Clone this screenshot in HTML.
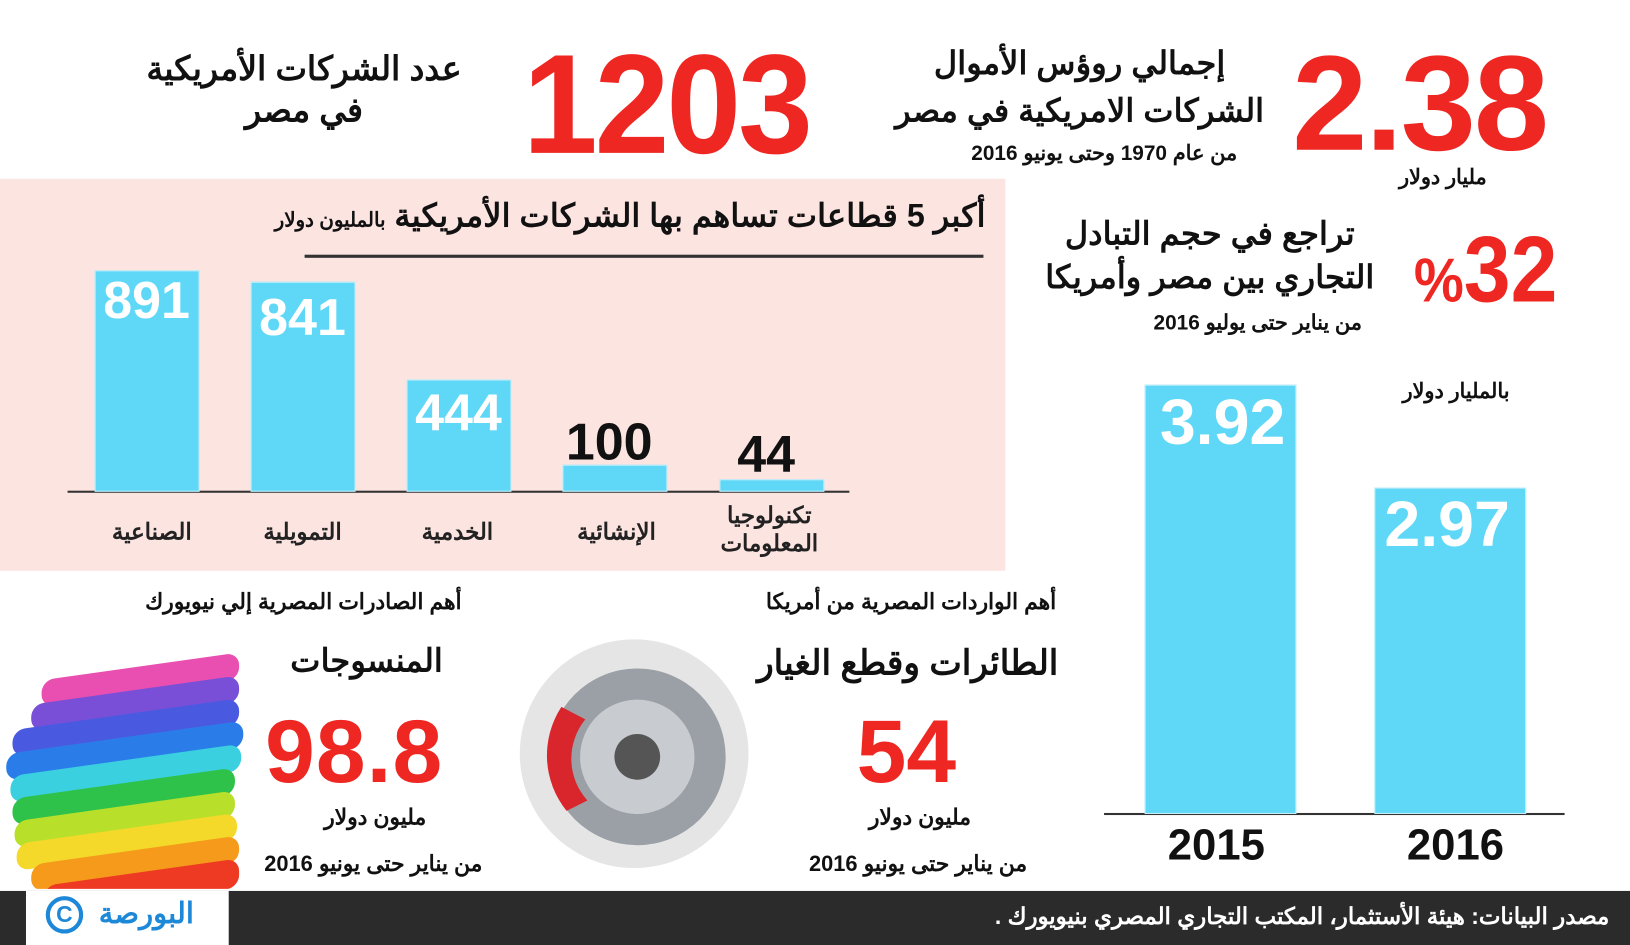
<!DOCTYPE html>
<html><head><meta charset="utf-8"><style>
html,body{margin:0;padding:0;background:#fff;overflow:hidden}
#w{position:relative;width:1568px;height:909px;transform:scale(1.0396);transform-origin:0 0;font-family:"Liberation Sans","Noto Sans CJK SC",sans-serif;}
.a{position:absolute;white-space:nowrap}
.ar{direction:rtl;font-weight:bold;color:#111}
.red{color:#ee2722;font-family:"Liberation Sans Narrow","Liberation Sans",sans-serif;font-weight:bold;line-height:1;transform-origin:0 0}
.bar{position:absolute;background:#5fd8f8;border:1px solid #c8eef8}
.bn{position:absolute;font-family:"Liberation Sans Narrow","Liberation Sans",sans-serif;font-weight:bold;line-height:1;text-align:center}
.lab{position:absolute;text-align:center;direction:rtl;font-weight:bold;font-size:20px;color:#222}
</style></head><body><div id="w">
<div class="a" style="left:0;top:172px;width:967px;height:377px;background:#fce4e1"></div>

<div class="a ar" style="right:1124px;top:46px;font-size:32px;text-align:center;line-height:40px">عدد الشركات الأمريكية<br>في مصر</div>
<div class="a red" style="left:503px;top:32px;font-size:136px;letter-spacing:-3px;transform:scaleX(0.95)">1203</div>
<div class="a ar" style="right:352px;top:38px;font-size:31px;line-height:46px;text-align:center">إجمالي روؤس الأموال<br>الشركات الامريكية في مصر</div>
<div class="a ar" style="right:378px;top:135px;font-size:20px">من عام 1970 وحتى يونيو 2016</div>
<div class="a red" style="left:1243px;top:34px;font-size:130px;letter-spacing:-2px">2.38</div>
<div class="a ar" style="right:138px;top:158px;font-size:20px">مليار دولار</div>

<div class="a ar" style="right:246px;top:204px;font-size:31px;line-height:42px;text-align:center">تراجع في حجم التبادل<br>التجاري بين مصر وأمريكا</div>
<div class="a ar" style="right:258px;top:298px;font-size:20px">من يناير حتى يوليو 2016</div>
<div class="a red" style="left:1360px;top:215px;font-size:90px;transform:scaleX(0.9)"><span style="font-size:60px">%</span>32</div>
<div class="a ar" style="right:116px;top:364px;font-size:20px">بالمليار دولار</div>

<div class="a ar" style="right:620px;top:190px;font-size:31px">أكبر 5 قطاعات تساهم بها الشركات الأمريكية <span style="font-size:19px">بالمليون دولار</span></div>
<div class="a" style="left:293px;top:245px;width:653px;height:3px;background:#333"></div>

<div class="a" style="left:65px;top:472px;width:752px;height:2px;background:#333"></div>
<div class="bar" style="left:91px;top:260px;width:99px;height:211px"></div>
<div class="bar" style="left:241px;top:271px;width:99px;height:200px"></div>
<div class="bar" style="left:391px;top:365px;width:99px;height:106px"></div>
<div class="bar" style="left:541px;top:447px;width:99px;height:24px"></div>
<div class="bar" style="left:692px;top:461px;width:99px;height:10px"></div>
<div class="bn" style="left:91px;top:264px;width:100px;font-size:50px;color:#fff">891</div>
<div class="bn" style="left:241px;top:280px;width:100px;font-size:50px;color:#fff">841</div>
<div class="bn" style="left:391px;top:372px;width:100px;font-size:50px;color:#fff">444</div>
<div class="bn" style="left:536px;top:400px;width:100px;font-size:50px;color:#111">100</div>
<div class="bn" style="left:687px;top:412px;width:100px;font-size:50px;color:#111">44</div>
<div class="lab" style="left:91px;top:499px;width:110px;font-size:22px">الصناعية</div>
<div class="lab" style="left:236px;top:499px;width:110px;font-size:22px">التمويلية</div>
<div class="lab" style="left:385px;top:499px;width:110px;font-size:22px">الخدمية</div>
<div class="lab" style="left:538px;top:499px;width:110px;font-size:22px">الإنشائية</div>
<div class="lab" style="left:680px;top:482px;width:120px;line-height:27px;font-size:22px">تكنولوجيا<br>المعلومات</div>

<div class="a" style="left:1062px;top:782px;width:443px;height:2px;background:#333"></div>
<div class="bar" style="left:1101px;top:370px;width:144px;height:411px"></div>
<div class="bar" style="left:1322px;top:469px;width:144px;height:312px"></div>
<div class="bn" style="left:1101px;top:376px;width:150px;font-size:62px;color:#fff">3.92</div>
<div class="bn" style="left:1322px;top:474px;width:140px;font-size:62px;color:#fff">2.97</div>
<div class="bn" style="left:1100px;top:792px;width:140px;font-size:42px;color:#111">2015</div>
<div class="bn" style="left:1330px;top:792px;width:140px;font-size:42px;color:#111">2016</div>

<div class="a ar" style="right:1124px;top:567px;font-size:21px">أهم الصادرات المصرية إلي نيويورك</div>
<div class="a ar" style="right:1142px;top:618px;font-size:31px">المنسوجات</div>
<div class="a red" style="left:255px;top:680px;font-size:86px;letter-spacing:1px">98.8</div>
<div class="a ar" style="right:1158px;top:774px;font-size:21px">مليون دولار</div>
<div class="a ar" style="right:1104px;top:819px;font-size:21px">من يناير حتى يونيو 2016</div>

<div class="a ar" style="right:552px;top:567px;font-size:21px">أهم الواردات المصرية من أمريكا</div>
<div class="a ar" style="right:550px;top:618px;font-size:33px">الطائرات وقطع الغيار</div>
<div class="a red" style="left:824px;top:680px;font-size:86px">54</div>
<div class="a ar" style="right:634px;top:774px;font-size:21px">مليون دولار</div>
<div class="a ar" style="right:580px;top:819px;font-size:21px">من يناير حتى يونيو 2016</div>

<svg class="a" style="left:0;top:620px" width="240" height="235">
<g transform="skewY(-8)">
<rect x="40" y="40" width="190" height="26" rx="12" fill="#e94fb0"/>
<rect x="30" y="62" width="200" height="26" rx="12" fill="#7a4fd8"/>
<rect x="12" y="84" width="218" height="26" rx="12" fill="#4a5ae0"/>
<rect x="6" y="106" width="228" height="26" rx="12" fill="#2a7de8"/>
<rect x="10" y="128" width="222" height="26" rx="12" fill="#3ad0e0"/>
<rect x="12" y="150" width="214" height="26" rx="12" fill="#2ec24a"/>
<rect x="14" y="172" width="212" height="26" rx="12" fill="#b8e02a"/>
<rect x="16" y="194" width="212" height="26" rx="12" fill="#f4d82a"/>
<rect x="30" y="216" width="200" height="26" rx="12" fill="#f59a1a"/>
<rect x="42" y="238" width="188" height="28" rx="12" fill="#ee3a22"/>
</g></svg>
<svg class="a" style="left:485px;top:600px" width="260" height="250">
<circle cx="125" cy="125" r="110" fill="#ccc" opacity=".5"/>
<circle cx="128" cy="128" r="85" fill="#9aa0a6"/>
<circle cx="128" cy="128" r="55" fill="#c8ccd0"/>
<circle cx="128" cy="128" r="22" fill="#555"/>
<path d="M55 80 A85 85 0 0 0 60 180 L80 170 A60 60 0 0 1 78 92Z" fill="#d9262c"/>
</svg>

<div class="a" style="left:0;top:857px;width:1568px;height:52px;background:#2b2b2b"></div>
<div class="a" style="left:25px;top:857px;width:195px;height:52px;background:#fff"></div>
<div class="a" style="left:44px;top:862px;width:36px;height:36px;border:4px solid #1e88d8;border-radius:50%;box-sizing:border-box;color:#1e88d8;font-weight:bold;font-size:22px;text-align:center;line-height:28px">C</div>
<div class="a ar" style="left:95px;top:862px;font-size:28px;color:#1e88d8">البورصة</div>
<div class="a ar" style="right:20px;top:869px;font-size:22px;color:#fff">مصدر البيانات: هيئة الأستثمار، المكتب التجاري المصري بنيويورك .</div>
</div></body></html>
